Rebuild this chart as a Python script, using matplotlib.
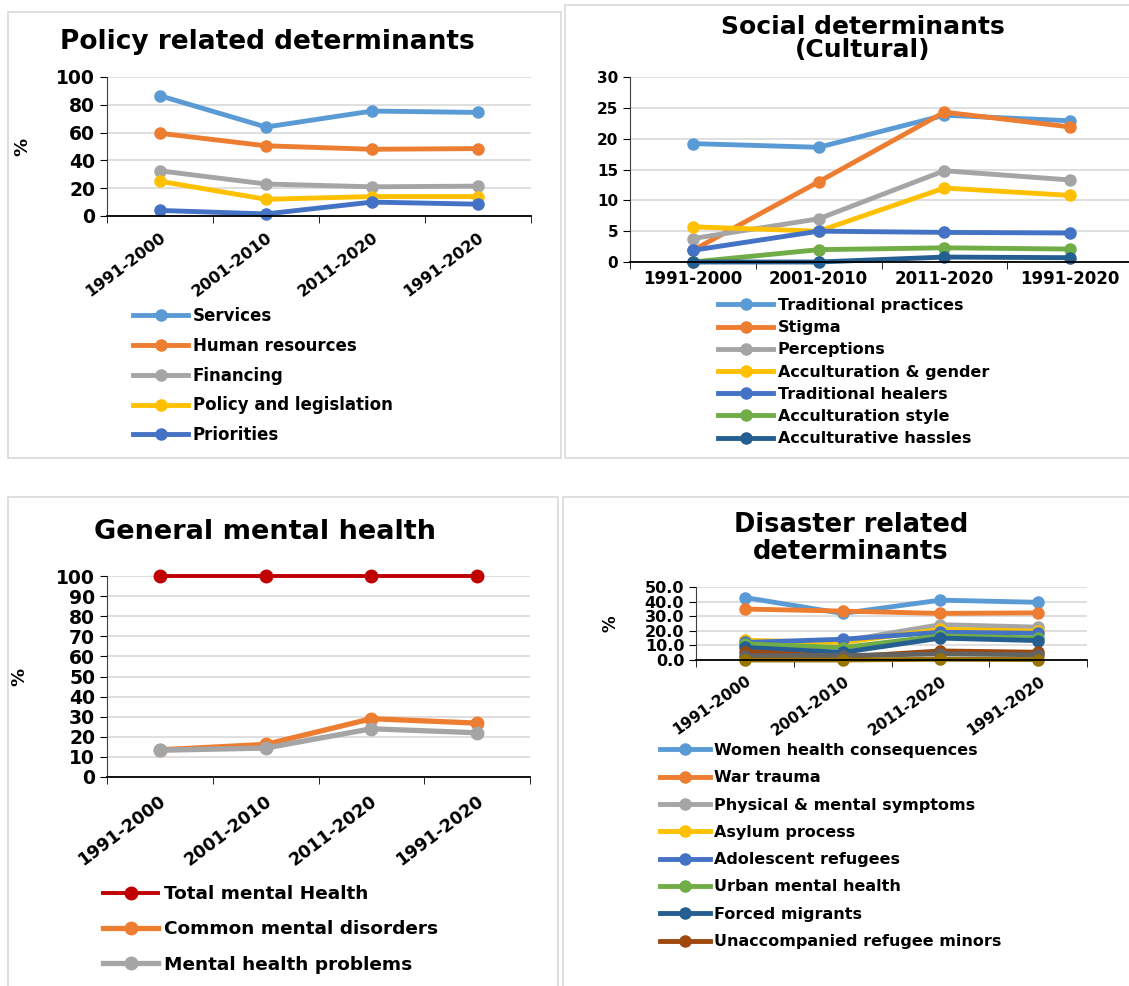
import matplotlib
matplotlib.use("Agg")
import matplotlib.pyplot as plt
from matplotlib.patches import Rectangle
from matplotlib.ticker import FixedLocator, FormatStrFormatter
from matplotlib.transforms import ScaledTranslation

plt.rcParams['font.family'] = ['DejaVu Sans']
plt.rcParams['font.weight'] = 'bold'

W, H = 1129, 986

periods = ["1991-2000", "2001-2010", "2011-2020", "1991-2020"]

# Policy related determinants
policy_labels = ["Services", "Human resources", "Financing", "Policy and legislation", "Priorities"]
policy_services = [86.5, 64, 75.5, 74.5]
policy_hr = [59.5, 50.5, 48, 48.5]
policy_financing = [32.5, 23, 21, 21.5]
policy_legislation = [25, 12, 14, 14]
policy_priorities = [4, 1.5, 10, 8.5]
policy_colors = ["#5B9BD5", "#ED7D31", "#A5A5A5", "#FFC000", "#4472C4"]

# Social determinants (Cultural)
social_labels = ["Traditional practices", "Stigma", "Perceptions", "Acculturation & gender",
                 "Traditional healers", "Acculturation style", "Acculturative hassles"]
social_trad_practices = [19.2, 18.6, 23.8, 22.9]
social_stigma = [1.9, 13.0, 24.3, 21.9]
social_perceptions = [3.8, 7.0, 14.8, 13.3]
social_acc_gender = [5.7, 5.0, 12.0, 10.8]
social_trad_healers = [1.9, 5.0, 4.8, 4.7]
social_acc_style = [0.0, 2.0, 2.3, 2.1]
social_acc_hassles = [0.0, 0.0, 0.8, 0.7]
social_colors = ["#5B9BD5", "#ED7D31", "#A5A5A5", "#FFC000", "#4472C4", "#70AD47", "#255E91"]

# General mental health
general_labels = ["Total mental Health", "Common mental disorders", "Mental health problems"]
general_total = [100, 100, 100, 100]
general_common = [13.5, 16.2, 29.0, 26.8]
general_problems = [13.3, 14.4, 24.0, 22.0]
general_colors = ["#C00000", "#ED7D31", "#A5A5A5"]

# Disaster related determinants (legend shows first 8 series only)
disaster_labels = ["Women health consequences", "War trauma", "Physical & mental symptoms",
                   "Asylum process", "Adolescent refugees", "Urban mental health",
                   "Forced migrants", "Unaccompanied refugee minors"]
dis_women = [42.8, 31.9, 41.0, 39.5]
dis_war = [34.9, 33.5, 31.9, 32.3]
dis_physical = [11.0, 13.0, 24.2, 22.5]
dis_asylum = [13.5, 12.0, 21.0, 19.8]
dis_adolescent = [12.0, 14.2, 19.0, 18.3]
dis_urban = [11.0, 8.5, 16.5, 15.0]
dis_forced = [8.6, 5.2, 15.0, 13.3]
dis_unaccompanied = [5.8, 2.0, 6.2, 5.3]
dis_extra_9 = [3.0, 3.0, 4.2, 3.6]
dis_extra_10 = [0.0, 0.0, 0.5, 0.3]
disaster_colors = ["#5B9BD5", "#ED7D31", "#A5A5A5", "#FFC000", "#4472C4", "#70AD47",
                   "#255E91", "#9E480E", "#636363", "#997300"]

fig = plt.figure(figsize=(W / 100, H / 100), dpi=100)


def frame(x0, x1, y0, y1):
    fig.patches.append(Rectangle((x0 / W, 1 - y1 / H), (x1 - x0) / W, (y1 - y0) / H,
                                 transform=fig.transFigure, fill=False,
                                 edgecolor="#D9D9D9", linewidth=1.2))


frame(8, 561, 12, 458)
frame(565, 1135, 5, 458)
frame(8, 558, 497, 990)
frame(563, 1135, 497, 990)


def px_axes(x0, x1, ytop, ybot):
    return fig.add_axes([x0 / W, 1 - ybot / H, (x1 - x0) / W, (ybot - ytop) / H])


def style(ax, ymax, step, ytick_size, xtick_size, rotate, fmt=None, pad=14, dx=4):
    ax.set_xlim(-0.5, 3.5)
    ax.set_ylim(0, ymax)
    ax.yaxis.set_major_locator(FixedLocator([i * step for i in range(int(round(ymax / step)) + 1)]))
    if fmt:
        ax.yaxis.set_major_formatter(FormatStrFormatter(fmt))
    ax.grid(axis='y', color="#D9D9D9", linewidth=1.2)
    ax.set_axisbelow(True)
    for s in ["top", "right"]:
        ax.spines[s].set_visible(False)
    ax.spines["left"].set_color("#404040")
    ax.spines["bottom"].set_color("#000000")
    ax.spines["bottom"].set_linewidth(1.3)
    ax.set_xticks(range(4))
    ax.set_xticks([-0.5, 0.5, 1.5, 2.5, 3.5], minor=True)
    ax.tick_params(axis='x', which='major', length=0, pad=6)
    ax.tick_params(axis='x', which='minor', length=5, direction='out')
    ax.tick_params(axis='y', length=5, labelsize=ytick_size)
    if rotate:
        ax.set_xticklabels(periods, rotation=rotate, ha='right', va='center',
                           rotation_mode='anchor', fontsize=xtick_size, fontweight='bold')
        ax.tick_params(axis='x', which='major', pad=pad)
        off = ScaledTranslation(dx / 100, 0, fig.dpi_scale_trans)
        for lab in ax.get_xticklabels():
            lab.set_transform(lab.get_transform() + off)
    else:
        ax.set_xticklabels(periods, fontsize=xtick_size, fontweight='bold')
    for lab in ax.get_yticklabels():
        lab.set_fontweight('bold')


def legend(handles, x, ytop, fs, hl, ls):
    fig.legend(handles=handles, loc='upper left', bbox_to_anchor=(x / W, 1 - ytop / H),
               bbox_transform=fig.transFigure, frameon=False,
               handlelength=hl, handletextpad=0.3, labelspacing=ls,
               borderpad=0, borderaxespad=0, prop={'weight': 'bold', 'size': fs})


# ---- Panel 1: Policy ----
ax1 = px_axes(107, 531, 77, 216)
series1 = [policy_services, policy_hr, policy_financing, policy_legislation, policy_priorities]
h1 = []
for vals, lab, c in zip(series1, policy_labels, policy_colors):
    l, = ax1.plot(range(4), vals, color=c, lw=3.5, marker='o', ms=8, label=lab, clip_on=False)
    h1.append(l)
style(ax1, 100, 20, 13.5, 11.5, 37, pad=14, dx=4)
ax1.set_ylabel("%", fontsize=13, fontweight='bold', labelpad=18)
fig.text(267 / W, 1 - 42 / H, "Policy related determinants", ha='center', va='center',
         fontsize=19, fontweight='bold')
legend(h1, 133, 307, 12, 3.3, 0.71)

# ---- Panel 2: Social ----
ax2 = px_axes(630, 1133, 77, 262)
series2 = [social_trad_practices, social_stigma, social_perceptions, social_acc_gender,
           social_trad_healers, social_acc_style, social_acc_hassles]
h2 = []
for vals, lab, c in zip(series2, social_labels, social_colors):
    l, = ax2.plot(range(4), vals, color=c, lw=3.5, marker='o', ms=8, label=lab, clip_on=False)
    h2.append(l)
style(ax2, 30, 5, 11, 12, False)
fig.text(863 / W, 1 - 27 / H, "Social determinants", ha='center', va='center',
         fontsize=18, fontweight='bold')
fig.text(863 / W, 1 - 50 / H, "(Cultural)", ha='center', va='center',
         fontsize=18, fontweight='bold')
legend(h2, 718, 298, 11.5, 3.45, 0.45)

# ---- Panel 3: General mental health ----
ax3 = px_axes(107, 530, 576, 777)
series3 = [general_total, general_common, general_problems]
h3 = []
for i, (vals, lab, c) in enumerate(zip(series3, general_labels, general_colors)):
    l, = ax3.plot(range(4), vals, color=c, lw=2.8 if i == 0 else 3.8, marker='o', ms=9,
                  label=lab, clip_on=False)
    h3.append(l)
style(ax3, 100, 10, 13.5, 12.5, 37, pad=16, dx=4)
ax3.set_ylabel("%", fontsize=13, fontweight='bold', labelpad=20)
fig.text(265 / W, 1 - 532 / H, "General mental health", ha='center', va='center',
         fontsize=19.5, fontweight='bold')
legend(h3, 103, 885, 13.3, 3.0, 0.94)

# ---- Panel 4: Disaster ----
ax4 = px_axes(696, 1087, 587, 660)
series4 = [dis_women, dis_war, dis_physical, dis_asylum, dis_adolescent, dis_urban,
           dis_forced, dis_unaccompanied, dis_extra_9, dis_extra_10]
h4 = []
for i, (vals, c) in enumerate(zip(series4, disaster_colors)):
    lab = disaster_labels[i] if i < len(disaster_labels) else None
    l, = ax4.plot(range(4), vals, color=c, lw=3.5, marker='o', ms=8, label=lab, clip_on=False)
    if lab:
        h4.append(l)
style(ax4, 50, 10, 11.5, 11, 35, fmt="%.1f", pad=14, dx=5)
ax4.set_ylabel("%", fontsize=12, fontweight='bold', labelpad=18)
fig.text(851 / W, 1 - 525 / H, "Disaster related", ha='center', va='center',
         fontsize=18.5, fontweight='bold')
fig.text(851 / W, 1 - 552 / H, "determinants", ha='center', va='center',
         fontsize=18.5, fontweight='bold')
legend(h4, 660, 743, 11.5, 3.1, 0.77)

fig.savefig("out.png", dpi=100)
